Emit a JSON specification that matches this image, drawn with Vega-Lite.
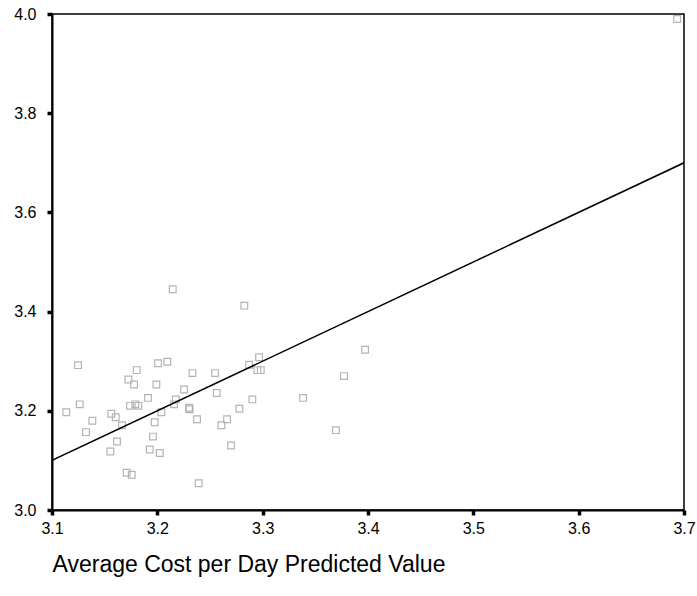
{
  "$schema": "https://vega.github.io/schema/vega-lite/v6.json",
  "width": 632,
  "height": 496,
  "autosize": {"type": "none"},
  "padding": {"left": 52, "top": 14, "right": 13, "bottom": 86},
  "background": "white",
  "config": {
    "view": {"stroke": "black", "strokeWidth": 1.5},
    "font": "Liberation Sans",
    "axis": {
      "grid": false,
      "domainColor": "black",
      "domainWidth": 2,
      "tickColor": "black",
      "tickWidth": 3.5,
      "tickSize": 5,
      "labelFont": "Liberation Sans",
      "labelFontSize": 16,
      "labelColor": "black",
      "titleFont": "Liberation Sans",
      "titleFontWeight": "normal",
      "titleColor": "black"
    }
  },
  "datasets": {
    "points": [
      {"predicted": 3.2146, "actual": 3.445},
      {"predicted": 3.1247, "actual": 3.292},
      {"predicted": 3.2007, "actual": 3.296},
      {"predicted": 3.2095, "actual": 3.299},
      {"predicted": 3.1804, "actual": 3.282},
      {"predicted": 3.2333, "actual": 3.276},
      {"predicted": 3.2548, "actual": 3.276},
      {"predicted": 3.1725, "actual": 3.263},
      {"predicted": 3.1779, "actual": 3.253},
      {"predicted": 3.1991, "actual": 3.253},
      {"predicted": 3.2254, "actual": 3.243},
      {"predicted": 3.2564, "actual": 3.236},
      {"predicted": 3.1263, "actual": 3.213},
      {"predicted": 3.1912, "actual": 3.226},
      {"predicted": 3.2175, "actual": 3.223},
      {"predicted": 3.1741, "actual": 3.21},
      {"predicted": 3.1791, "actual": 3.213},
      {"predicted": 3.182, "actual": 3.21},
      {"predicted": 3.2159, "actual": 3.213},
      {"predicted": 3.2301, "actual": 3.206},
      {"predicted": 3.2307, "actual": 3.203},
      {"predicted": 3.1136, "actual": 3.197},
      {"predicted": 3.1563, "actual": 3.194},
      {"predicted": 3.1605, "actual": 3.187},
      {"predicted": 3.2038, "actual": 3.197},
      {"predicted": 3.1383, "actual": 3.18},
      {"predicted": 3.1665, "actual": 3.171},
      {"predicted": 3.1975, "actual": 3.177},
      {"predicted": 3.2377, "actual": 3.183},
      {"predicted": 3.2608, "actual": 3.171},
      {"predicted": 3.2662, "actual": 3.183},
      {"predicted": 3.1323, "actual": 3.157},
      {"predicted": 3.1617, "actual": 3.138},
      {"predicted": 3.1959, "actual": 3.148},
      {"predicted": 3.1554, "actual": 3.118},
      {"predicted": 3.1928, "actual": 3.122},
      {"predicted": 3.2023, "actual": 3.115},
      {"predicted": 3.1709, "actual": 3.075},
      {"predicted": 3.1757, "actual": 3.071},
      {"predicted": 3.2393, "actual": 3.054},
      {"predicted": 3.2826, "actual": 3.412},
      {"predicted": 3.3972, "actual": 3.323},
      {"predicted": 3.2966, "actual": 3.308},
      {"predicted": 3.2871, "actual": 3.293},
      {"predicted": 3.295, "actual": 3.282},
      {"predicted": 3.2982, "actual": 3.282},
      {"predicted": 3.3773, "actual": 3.27},
      {"predicted": 3.2902, "actual": 3.223},
      {"predicted": 3.3384, "actual": 3.226},
      {"predicted": 3.2779, "actual": 3.204},
      {"predicted": 3.3695, "actual": 3.161},
      {"predicted": 3.27, "actual": 3.13},
      {"predicted": 3.6935, "actual": 3.99}
    ],
    "line": [
      {"predicted": 3.1, "actual": 3.1},
      {"predicted": 3.7, "actual": 3.7}
    ]
  },
  "layer": [
    {
      "data": {"name": "points"},
      "mark": {"type": "point", "shape": "square", "size": 45, "filled": false, "stroke": "#b4b4b4", "strokeWidth": 1.2, "opacity": 1},
      "encoding": {
        "x": {
          "field": "predicted", "type": "quantitative",
          "scale": {"domain": [3.1, 3.7], "nice": false, "zero": false},
          "axis": {
            "values": [3.1, 3.2, 3.3, 3.4, 3.5, 3.6, 3.7],
            "format": ".1f",
            "labelPadding": 5,
            "labelFlush": false,
            "title": "Average Cost per Day Predicted Value",
            "titleFontSize": 23,
            "titleAnchor": "start",
            "titleAlign": "left",
            "titlePadding": 17
          }
        },
        "y": {
          "field": "actual", "type": "quantitative",
          "scale": {"domain": [3.0, 4.0], "nice": false, "zero": false},
          "axis": {
            "values": [3.0, 3.2, 3.4, 3.6, 3.8, 4.0],
            "format": ".1f",
            "labelPadding": 11,
            "labelFlush": false,
            "title": null
          }
        }
      }
    },
    {
      "data": {"name": "line"},
      "mark": {"type": "line", "color": "black", "strokeWidth": 1.5, "clip": true},
      "encoding": {
        "x": {"field": "predicted", "type": "quantitative"},
        "y": {"field": "actual", "type": "quantitative"}
      }
    }
  ]
}
